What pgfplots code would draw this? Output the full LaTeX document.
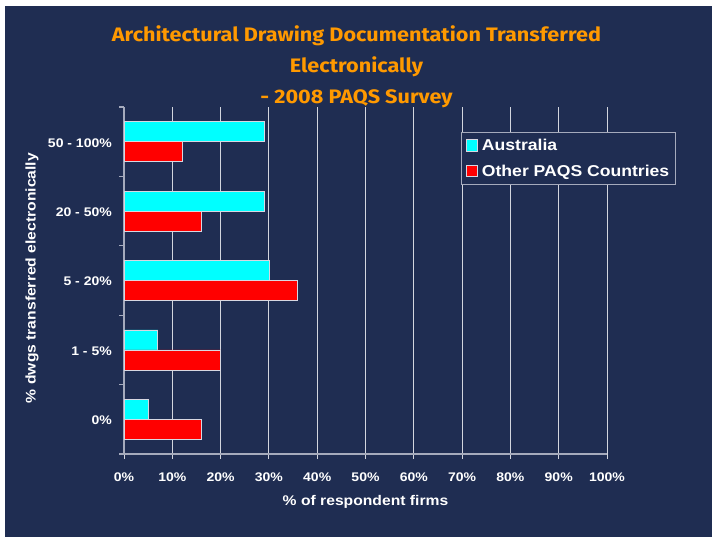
\documentclass[border=0pt]{standalone}
\usepackage{pgfplots}
\pgfplotsset{compat=1.18}
\usepackage{fontspec}
\setmainfont{Liberation Sans}[FakeStretch=1.12]
\newfontfamily\titlefont{Fira Sans}[FakeStretch=1.11]
\definecolor{navy}{RGB}{31,45,82}
\definecolor{ttl}{RGB}{255,153,0}
\definecolor{axgray}{RGB}{165,170,188}
\definecolor{gridc}{RGB}{210,213,222}
\definecolor{barline}{RGB}{215,215,225}
\definecolor{cyanbar}{RGB}{0,255,255}
\definecolor{redbar}{RGB}{255,0,0}
\begin{document}
\begin{tikzpicture}[x=1pt,y=1pt]
\path[use as bounding box] (0,0) rectangle (712,538);
\fill[white] (0,0) rectangle (712,538);
\fill[navy] (5,1) rectangle (712,532);
\begin{axis}[
  at={(124pt,84pt)}, anchor=south west,
  scale only axis, width=483pt, height=347pt,
  xbar=0pt, bar width=20pt,
  xmin=0, xmax=100, ymin=-0.5, ymax=4.5, y dir=reverse,
  axis x line*=bottom, axis y line*=left,
  axis line style={axgray, line width=1.2pt, -},
  /pgf/number format/assume math mode=true,
  ticklabel style={text=white, font=\fontsize{12.5}{15}\selectfont\bfseries},
  xtick={0,10,...,100},
  xticklabel={\pgfmathprintnumber{\tick}\%},
  xmajorgrids, major grid style={gridc, line width=1pt},
  tick align=outside, major tick length=5pt,
  major x tick style={gridc, line width=1pt},
  ytick={0,1,2,3,4},
  yticklabels={50 - 100\%, 20 - 50\%, 5 - 20\%, 1 - 5\%, 0\%},
  major y tick style={draw=none},
  minor ytick={-0.5,0.5,1.5,2.5,3.5,4.5},
  minor tick length=5pt,
  minor y tick style={axgray, line width=1.2pt},
  xticklabel style={anchor=base, inner sep=0pt, yshift=-22pt},
  yticklabel style={anchor=east, inner sep=0pt, xshift=-7pt, yshift=-1pt},
  legend style={at={(0.697,0.927)}, anchor=north west, draw=axgray, fill=navy,
    text=white, font=\fontsize{15.7}{19}\selectfont\bfseries, line width=1pt,
    inner xsep=4.5pt, inner ysep=4.5pt, row sep=8.5pt,
    /tikz/every even column/.append style={column sep=5pt}},
  legend cell align=left,
  legend image code/.code={\draw[#1, line width=0.8pt] (0pt,-5.5pt) rectangle (11.5pt,6pt);\path (13.5pt,0pt);},
]
\addplot[fill=cyanbar, draw=barline, line width=0.8pt, bar shift=10pt] coordinates {(29,0) (29,1) (30,2) (7,3) (5,4)};
\addplot[fill=redbar, draw=barline, line width=0.8pt, bar shift=-10pt] coordinates {(12,0) (16,1) (36,2) (20,3) (16,4)};
\legend{Australia, Other PAQS Countries}
\end{axis}
\node[ttl, anchor=base, font=\titlefont\bfseries\fontsize{19.5}{22}\selectfont] at (356.5,496.3) {Architectural Drawing Documentation Transferred};
\node[ttl, anchor=base, font=\titlefont\bfseries\fontsize{19.5}{22}\selectfont] at (356.5,465.3) {Electronically};
\node[ttl, anchor=base, font=\titlefont\bfseries\fontsize{19.5}{22}\selectfont] at (356.5,434.3) {- 2008 PAQS Survey};
\node[white, anchor=center, rotate=90, font=\fontsize{14}{17}\selectfont\bfseries] at (32,260) {\% dwgs transferred electronically};
\node[white, anchor=center, font=\fontsize{14}{17}\selectfont\bfseries] at (365.5,36.3) {\% of respondent firms};
\end{tikzpicture}
\end{document}
